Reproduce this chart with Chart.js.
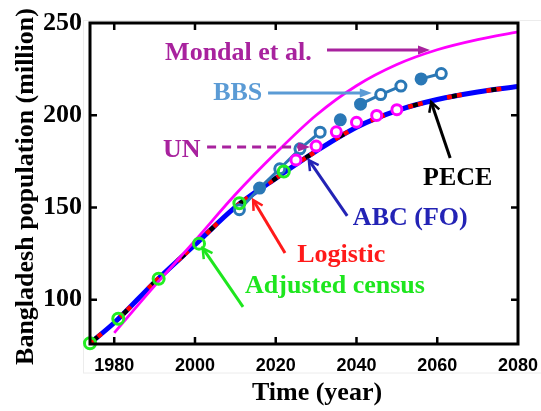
<!DOCTYPE html>
<html>
<head>
<meta charset="utf-8">
<script src="https://cdn.jsdelivr.net/npm/chart.js@4/dist/chart.umd.min.js"></script>
<style>
  html, body { margin: 0; padding: 0; background: #fff; }
  canvas { display: block; }
</style>
</head>
<body>
<canvas id="chart" width="541" height="411"></canvas>
<script>
// Bangladesh population (million): census, projections and model fits
const censusYears = [1974, 1981, 1991, 2001, 2011, 2022];
const censusPop   = [76.4, 89.7, 111.4, 130.4, 152.3, 169.5];

const bbsYears = [2011, 2016, 2021, 2026, 2031, 2036, 2041, 2046, 2051, 2056, 2061];
const bbsPop   = [148.8, 160.5, 171.0, 181.8, 190.8, 197.5, 206.0, 211.2, 215.8, 219.7, 222.6];

const unYears = [2025, 2030, 2035, 2040, 2045, 2050];
const unPop   = [175.8, 183.3, 191.0, 196.2, 199.9, 203.0];

const mondalYears = [1980, 1990, 2000, 2010, 2020, 2030, 2040, 2050, 2060, 2070, 2080];
const mondalPop   = [82.0, 107.5, 132.0, 157.0, 179.5, 200.0, 216.0, 227.5, 235.5, 241.0, 245.2];

// the three model solutions lie on top of each other at this scale
const modelYears  = [1974, 1980, 1990, 2000, 2010, 2020, 2030, 2040, 2050, 2060, 2070, 2080];
const abcFoPop    = [76.4, 87.5, 109.5, 129.8, 150.2, 165.8, 180.5, 193.5, 202.5, 208.5, 212.6, 215.6];
const logisticPop = [76.4, 87.5, 109.5, 129.8, 150.2, 165.8, 180.5, 193.5, 202.5, 208.5, 212.6, 215.6];
const pecePop     = [76.4, 87.5, 109.5, 129.8, 150.2, 165.8, 180.5, 193.5, 202.5, 208.5, 212.6, 215.6];

const yearTicks = [1980, 2000, 2020, 2040, 2060, 2080];
const popTicks  = [100, 150, 200, 250];

// BBS marker look: which markers are solid, which segments are left out
const bbsSolid = [false, true, false, false, false, true, true, false, false, true, false];
const bbsGapAfter = [4, 5, 8];

const BBS_BLUE = '#2a78b6';
const pts = (xs, ys) => xs.map((x, i) => ({ x, y: ys[i] }));

// callouts, placed in (year, population) units
const notes = [
  { text: 'Mondal et al.',   color: '#a8229e', at: [1992.6, 229.9], from: [2032.7, 235.4], to: [2058.2, 235.4], head: 'solid' },
  { text: 'BBS',             color: '#5b9bd5', at: [2004.5, 208.3], from: [2018.1, 212.0], to: [2043.8, 212.0], head: 'solid' },
  { text: 'UN',              color: '#a8229e', at: [1992.1, 177.4], from: [2003.0, 182.8], to: [2028.5, 182.8], head: 'solid', dash: [9, 6] },
  { text: 'ABC (FO)',        color: '#2323b5', at: [2039.1, 140.5], from: [2037.7, 145.4], to: [2028.2, 175.7], head: 'open' },
  { text: 'Logistic',        color: '#ff1a1a', at: [2025.3, 120.6], from: [2022.3, 125.3], to: [2014.4, 154.1], head: 'open' },
  { text: 'Adjusted census', color: '#1ee61e', at: [2012.4, 103.5], from: [2011.9, 96.1],  to: [2001.9, 128.0], head: 'open' },
  { text: 'PECE',            color: '#000000', at: [2056.5, 162.1], from: [2063.2, 176.8], to: [2058.5, 207.2], head: 'open' }
];

const SERIF = '"Liberation Serif", "Times New Roman", serif';
const SANS = '"Liberation Sans", Arial, sans-serif';

function arrowHead(ctx, x0, y0, x1, y1, kind) {
  const ang = Math.atan2(y1 - y0, x1 - x0);
  if (kind === 'solid') {
    const L = 12, W = 4.5;
    ctx.beginPath();
    ctx.moveTo(x1, y1);
    ctx.lineTo(x1 - L * Math.cos(ang) + W * Math.sin(ang), y1 - L * Math.sin(ang) - W * Math.cos(ang));
    ctx.lineTo(x1 - L * Math.cos(ang) - W * Math.sin(ang), y1 - L * Math.sin(ang) + W * Math.cos(ang));
    ctx.closePath();
    ctx.fill();
  } else {
    const L = 11, spread = 0.5;
    ctx.beginPath();
    ctx.moveTo(x1 - L * Math.cos(ang - spread), y1 - L * Math.sin(ang - spread));
    ctx.lineTo(x1, y1);
    ctx.lineTo(x1 - L * Math.cos(ang + spread), y1 - L * Math.sin(ang + spread));
    ctx.stroke();
  }
}

const figureDecor = {
  id: 'figureDecor',
  beforeDraw(chart) {
    const ctx = chart.ctx;
    ctx.save();
    ctx.strokeStyle = '#ececec';
    ctx.lineWidth = 1;
    ctx.strokeRect(83.5, 20.5, 470, 352.5);
    ctx.restore();
  },
  afterDatasetsDraw(chart) {
    const { ctx, chartArea: a, scales: { x, y } } = chart;
    ctx.save();

    // axes box with inward ticks
    ctx.strokeStyle = '#000';
    ctx.lineWidth = 3;
    ctx.strokeRect(a.left, a.top, a.right - a.left, a.bottom - a.top);
    ctx.lineWidth = 2.5;
    ctx.beginPath();
    x.ticks.forEach(t => {
      const px = x.getPixelForValue(t.value);
      if (px > a.left + 3 && px < a.right - 3) {
        ctx.moveTo(px, a.bottom); ctx.lineTo(px, a.bottom - 7);
        ctx.moveTo(px, a.top);    ctx.lineTo(px, a.top + 7);
      }
    });
    y.ticks.forEach(t => {
      const py = y.getPixelForValue(t.value);
      if (py > a.top + 3 && py < a.bottom - 3) {
        ctx.moveTo(a.left, py);  ctx.lineTo(a.left + 7, py);
        ctx.moveTo(a.right, py); ctx.lineTo(a.right - 7, py);
      }
    });
    ctx.stroke();

    // callout arrows and labels
    notes.forEach(n => {
      const x0 = x.getPixelForValue(n.from[0]), y0 = y.getPixelForValue(n.from[1]);
      const x1 = x.getPixelForValue(n.to[0]),   y1 = y.getPixelForValue(n.to[1]);
      ctx.strokeStyle = n.color;
      ctx.fillStyle = n.color;
      ctx.lineWidth = 3;
      ctx.setLineDash(n.dash || []);
      ctx.beginPath();
      const ang = Math.atan2(y1 - y0, x1 - x0);
      const back = n.head === 'solid' ? 10 : 1;
      ctx.moveTo(x0, y0);
      ctx.lineTo(x1 - back * Math.cos(ang), y1 - back * Math.sin(ang));
      ctx.stroke();
      ctx.setLineDash([]);
      ctx.lineWidth = 2.5;
      arrowHead(ctx, x0, y0, x1, y1, n.head);

      ctx.font = 'bold 26px ' + SERIF;
      ctx.textAlign = 'left';
      ctx.textBaseline = 'alphabetic';
      ctx.fillText(n.text, x.getPixelForValue(n.at[0]), y.getPixelForValue(n.at[1]));
    });

    // axis titles
    ctx.fillStyle = '#000';
    ctx.font = 'bold 26px ' + SERIF;
    ctx.textAlign = 'center';
    ctx.textBaseline = 'alphabetic';
    ctx.fillText('Time (year)', (a.left + a.right) / 2 + 13, 400);
    ctx.translate(33, (a.top + a.bottom) / 2 + 3);
    ctx.rotate(-Math.PI / 2);
    ctx.fillText('Bangladesh population (million)', 0, 0);
    ctx.restore();
  }
};

const modelLine = (label, data, color, width, dash, offset) => ({
  label,
  data: pts(modelYears, data),
  borderColor: color,
  borderWidth: width,
  borderDash: dash || [],
  borderDashOffset: offset || 0,
  borderCapStyle: 'butt',
  pointRadius: 0,
  cubicInterpolationMode: 'monotone',
  fill: false
});

new Chart(document.getElementById('chart'), {
  type: 'line',
  data: {
    datasets: [
      {
        label: 'Adjusted census',
        data: pts(censusYears, censusPop),
        showLine: false,
        pointRadius: 5.5,
        pointBorderWidth: 3,
        pointBorderColor: '#22ee22',
        pointBackgroundColor: 'rgba(0,0,0,0)',
        clip: false
      },
      {
        label: 'UN',
        data: pts(unYears, unPop),
        showLine: false,
        pointRadius: 5,
        pointBorderWidth: 3,
        pointBorderColor: '#ff00ff',
        pointBackgroundColor: '#ffffff'
      },
      {
        label: 'BBS',
        data: pts(bbsYears, bbsPop),
        borderColor: BBS_BLUE,
        borderWidth: 3,
        pointRadius: 5,
        pointBorderWidth: 3,
        pointBorderColor: BBS_BLUE,
        pointBackgroundColor: bbsSolid.map(s => s ? BBS_BLUE : '#ffffff'),
        segment: {
          borderColor: c => bbsGapAfter.includes(c.p0DataIndex) ? 'rgba(0,0,0,0)' : BBS_BLUE
        },
        tension: 0
      },
      {
        label: 'Mondal et al.',
        data: pts(mondalYears, mondalPop),
        borderColor: '#ff00ff',
        borderWidth: 2.8,
        pointRadius: 0,
        cubicInterpolationMode: 'monotone'
      },
      modelLine('PECE', pecePop, '#000000', 4.5, [5, 35], 35),
      modelLine('Logistic', logisticPop, '#ff0000', 4.5, [5, 5, 5, 25], 0),
      modelLine('ABC (FO)', abcFoPop, '#0000ff', 5)
    ]
  },
  options: {
    responsive: false,
    animation: false,
    events: [],
    layout: { padding: { top: 23, right: 23, left: 0, bottom: 0 } },
    plugins: { legend: { display: false }, tooltip: { enabled: false } },
    scales: {
      x: {
        type: 'linear',
        min: 1974,
        max: 2080,
        grid: { display: false, drawTicks: false },
        border: { display: false },
        afterBuildTicks: s => { s.ticks = yearTicks.map(v => ({ value: v })); },
        afterFit: s => { s.height = 67; s.paddingLeft = 0; s.paddingRight = 0; },
        ticks: {
          padding: 11,
          maxRotation: 0,
          autoSkip: false,
          color: '#000',
          font: { family: SANS, size: 18, weight: 'bold' },
          callback: v => String(v)
        }
      },
      y: {
        min: 76,
        max: 250,
        grid: { display: false, drawTicks: false },
        border: { display: false },
        afterBuildTicks: s => { s.ticks = popTicks.map(v => ({ value: v })); },
        afterFit: s => { s.width = 90; s.paddingTop = 0; s.paddingBottom = 0; },
        ticks: {
          padding: 8,
          autoSkip: false,
          color: '#000',
          font: { family: SERIF, size: 26, weight: 'bold' },
          callback: v => String(v)
        }
      }
    }
  },
  plugins: [figureDecor]
});
</script>
</body>
</html>
